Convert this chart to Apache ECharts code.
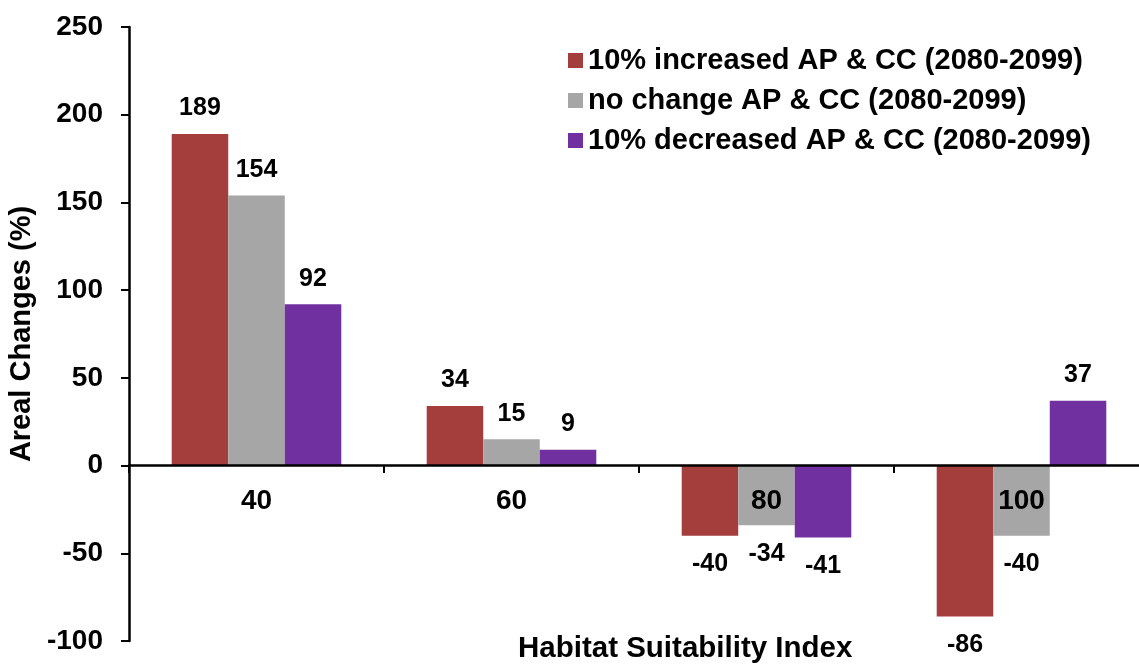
<!DOCTYPE html>
<html>
<head>
<meta charset="utf-8">
<script src="https://cdn.jsdelivr.net/npm/echarts@6/dist/echarts.min.js"></script>
<style>
  html, body { margin: 0; padding: 0; background: #fff; }
  #main { width: 1139px; height: 665px; }
</style>
</head>
<body>
<div id="main"></div>
<script>
var categories = ['40', '60', '80', '100'];
var increased = [189, 34, -40, -86];
var noChange = [154, 15, -34, -40];
var decreased = [92, 9, -41, 37];
var seriesNames = [
  '10% increased AP & CC (2080-2099)',
  'no change AP & CC (2080-2099)',
  '10% decreased AP & CC (2080-2099)'
];

var font = 'Arial, "Liberation Sans", sans-serif';

// label goes above positive bars and below negative ones
function withLabels(values) {
  return values.map(function (v) {
    return {
      value: v,
      label: v >= 0 ? { position: 'top', distance: 13 } : { position: 'bottom', distance: 16 }
    };
  });
}

function barSeries(name, values, color) {
  return {
    name: name,
    type: 'bar',
    data: withLabels(values),
    barGap: '0%',
    barCategoryGap: '33.5%',
    itemStyle: { color: color },
    label: {
      show: true,
      color: '#000',
      fontFamily: font,
      fontWeight: 'bold',
      fontSize: 25
    }
  };
}

var chart = echarts.init(document.getElementById('main'));
chart.setOption({
  animation: false,
  backgroundColor: '#fff',
  title: {
    text: '(a)',
    left: 552,
    top: -30,
    textStyle: { fontFamily: font, fontSize: 26, fontWeight: 'bold', color: '#888' }
  },
  grid: { left: 129, right: -10, top: 27, bottom: 24, containLabel: false, outerBoundsMode: 'none' },
  legend: {
    orient: 'vertical',
    left: 563,
    top: 41,
    itemWidth: 15,
    itemHeight: 15,
    itemGap: 11,
    icon: 'rect',
    data: seriesNames,
    textStyle: { fontFamily: font, fontSize: 29, fontWeight: 'bold', color: '#000' }
  },
  xAxis: {
    type: 'category',
    data: categories,
    z: 10,
    // axis sits on the zero line: offset up from the grid bottom
    offset: -176,
    axisLine: { onZero: false, lineStyle: { color: '#000', width: 2.5 } },
    axisTick: { show: true, alignWithLabel: false, interval: 0, length: 8, lineStyle: { color: '#000', width: 2 } },
    axisLabel: {
      margin: 22,
      color: '#000',
      fontFamily: font,
      fontWeight: 'bold',
      fontSize: 28
    },
    splitLine: { show: false }
  },
  yAxis: {
    type: 'value',
    min: -100,
    max: 250,
    interval: 50,
    name: 'Areal Changes (%)',
    nameLocation: 'middle',
    nameGap: 92,
    nameTextStyle: { fontFamily: font, fontWeight: 'bold', fontSize: 29, color: '#000' },
    axisLine: { show: true, lineStyle: { color: '#000', width: 2.5 } },
    axisTick: { show: true, length: 8, lineStyle: { color: '#000', width: 2 } },
    axisLabel: {
      margin: 26,
      color: '#000',
      fontFamily: font,
      fontWeight: 'bold',
      fontSize: 28
    },
    splitLine: { show: false }
  },
  graphic: [{
    type: 'text',
    left: 518,
    top: 634,
    style: {
      text: 'Habitat Suitability Index',
      font: 'bold 29.5px Arial, "Liberation Sans", sans-serif',
      fill: '#000'
    }
  }],
  series: [
    barSeries(seriesNames[0], increased, '#A43E3C'),
    barSeries(seriesNames[1], noChange, '#A6A6A6'),
    barSeries(seriesNames[2], decreased, '#7030A0')
  ]
});
</script>
</body>
</html>
